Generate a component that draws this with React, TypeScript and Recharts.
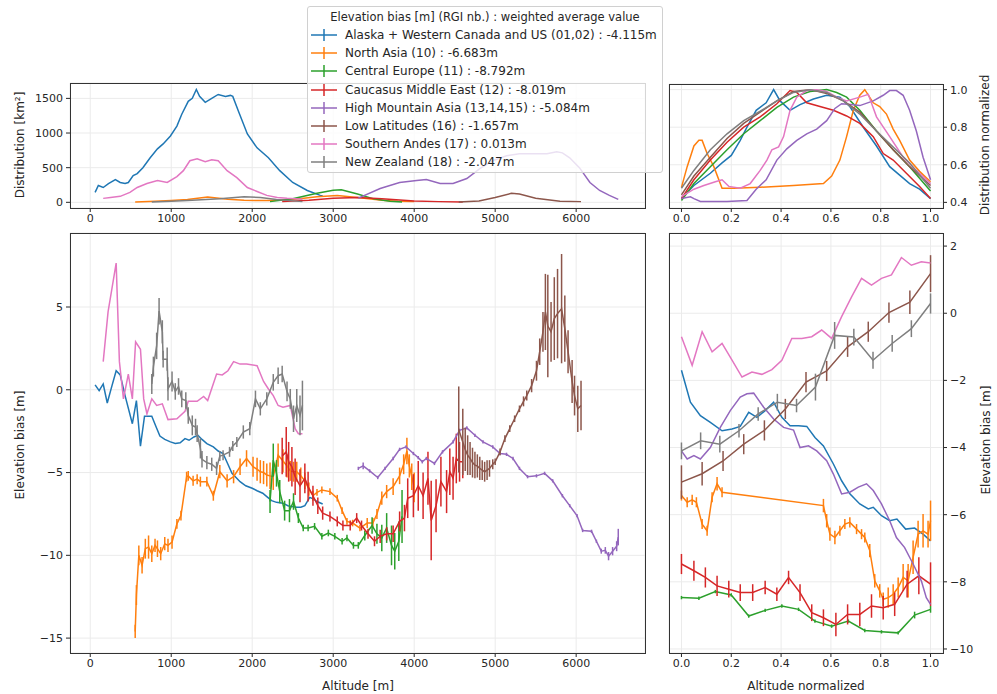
import React from 'react';
import { LineChart, Line, XAxis, YAxis, CartesianGrid, ErrorBar } from 'recharts';

// legend labels, in plotting order
const regionLabels = [
  'Alaska + Western Canada and US (01,02) : -4.115m',
  'North Asia (10) : -6.683m',
  'Central Europe (11) : -8.792m',
  'Caucasus Middle East (12) : -8.019m',
  'High Mountain Asia (13,14,15) : -5.084m',
  'Low Latitudes (16) : -1.657m',
  'Southern Andes (17) : 0.013m',
  'New Zealand (18) : -2.047m',
];
const legendTitle = 'Elevation bias [m] (RGI nb.) : weighted average value';

// ---- distribution [km2] vs altitude [m]
const alaskaDist = [[60,143],[100,243],[160,214],[225,271],[310,329],[370,286],[430,271],[470,286],[530,386],[580,414],[650,500],[740,643],[830,771],[900,843],[990,957],[1070,1100],[1130,1271],[1210,1457],[1260,1500],[1310,1629],[1350,1529],[1420,1443],[1500,1500],[1580,1557],[1670,1529],[1730,1543],[1760,1529],[1830,1314],[1940,986],[2060,786],[2200,643],[2340,457],[2500,286],[2680,171],[2840,100],[2870,90]];
const northAsiaDist = [[555,5],[800,15],[1000,25],[1200,40],[1450,75],[1700,45],[1900,30],[2200,25],[2500,40],[2800,80],[3050,100],[3300,70],[3600,30],[3800,15],[4000,10]];
const centralEuropeDist = [[2220,10],[2500,50],[2800,130],[3000,175],[3100,180],[3300,120],[3500,50],[3700,15],[3850,5]];
const caucasusDist = [[2370,10],[2700,30],[3000,60],[3300,70],[3600,50],[4000,20],[4300,10],[4600,5]];
const hmaDist = [[3310,60],[3580,200],[3820,286],[4030,314],[4150,329],[4320,271],[4480,271],[4650,343],[4810,486],[4970,600],[5140,671],[5300,700],[5460,700],[5640,700],[5760,729],[5830,714],[5920,643],[6040,500],[6170,286],[6290,171],[6410,100],[6520,43]];
const lowLatDist = [[4550,5],[4800,20],[5000,70],[5200,130],[5300,120],[5500,60],[5800,15],[6060,10]];
const andesDist = [[160,57],[250,71],[370,86],[490,143],[580,214],[700,271],[830,314],[950,286],[1070,371],[1150,457],[1230,600],[1320,629],[1420,586],[1500,614],[1580,600],[1690,457],[1810,357],[1940,214],[2060,157],[2180,100],[2310,71],[2430,57],[2620,45]];
const nzDist = [[760,5],[1000,15],[1200,25],[1600,50],[1900,80],[2100,70],[2300,40],[2620,10]];

// ---- distribution normalized vs altitude normalized
const alaskaDistN = [[0,0.42],[0.05,0.49],[0.116,0.555],[0.163,0.61],[0.2,0.65],[0.236,0.73],[0.263,0.8],[0.3,0.89],[0.34,0.93],[0.37,1.0],[0.396,0.94],[0.436,0.89],[0.476,0.92],[0.53,0.95],[0.583,0.97],[0.636,0.96],[0.676,0.91],[0.73,0.8],[0.783,0.7],[0.836,0.59],[0.876,0.545],[0.916,0.5],[0.956,0.47],[1,0.42]];
const northAsiaDistN = [[0,0.48],[0.023,0.59],[0.05,0.7],[0.07,0.73],[0.083,0.73],[0.103,0.66],[0.13,0.59],[0.163,0.475],[0.21,0.475],[0.316,0.48],[0.45,0.49],[0.57,0.5],[0.603,0.54],[0.636,0.625],[0.663,0.75],[0.69,0.89],[0.716,0.97],[0.736,1.0],[0.77,0.93],[0.796,0.91],[0.823,0.87],[0.85,0.79],[0.876,0.73],[0.916,0.625],[0.956,0.565],[1,0.51]];
const centralEuropeDistN = [[0,0.41],[0.05,0.5],[0.116,0.59],[0.183,0.68],[0.25,0.765],[0.316,0.835],[0.383,0.905],[0.45,0.96],[0.516,0.99],[0.583,1.0],[0.623,0.985],[0.663,0.96],[0.716,0.89],[0.783,0.78],[0.85,0.68],[0.916,0.59],[1,0.46]];
const caucasusDistN = [[0,0.42],[0.05,0.52],[0.116,0.625],[0.183,0.72],[0.25,0.8],[0.316,0.855],[0.383,0.925],[0.436,0.995],[0.463,0.985],[0.503,0.93],[0.556,0.91],[0.61,0.89],[0.663,0.86],[0.716,0.82],[0.77,0.75],[0.81,0.66],[0.85,0.625],[0.903,0.555],[0.956,0.485],[1,0.42]];
const hmaDistN = [[0,0.42],[0.036,0.43],[0.05,0.42],[0.076,0.405],[0.116,0.405],[0.183,0.405],[0.263,0.41],[0.3,0.47],[0.34,0.52],[0.383,0.625],[0.423,0.685],[0.463,0.73],[0.503,0.765],[0.543,0.79],[0.583,0.835],[0.616,0.9],[0.643,0.925],[0.69,0.92],[0.716,0.915],[0.77,0.94],[0.81,0.97],[0.836,0.995],[0.863,0.995],[0.89,0.97],[0.916,0.89],[0.943,0.78],[0.97,0.64],[1,0.52]];
const lowLatDistN = [[0,0.44],[0.05,0.54],[0.116,0.64],[0.183,0.74],[0.25,0.82],[0.316,0.88],[0.383,0.94],[0.45,0.99],[0.516,1.0],[0.583,0.98],[0.65,0.94],[0.716,0.88],[0.783,0.78],[0.85,0.68],[0.916,0.59],[1,0.49]];
const andesDistN = [[0,0.43],[0.05,0.47],[0.09,0.49],[0.136,0.51],[0.163,0.52],[0.19,0.485],[0.236,0.475],[0.276,0.5],[0.316,0.57],[0.343,0.625],[0.363,0.68],[0.39,0.695],[0.41,0.75],[0.436,0.89],[0.463,0.96],[0.503,0.995],[0.543,1.0],[0.583,0.99],[0.623,0.96],[0.663,0.94],[0.716,0.96],[0.75,0.975],[0.783,0.855],[0.836,0.75],[0.89,0.64],[0.943,0.57],[1,0.5]];
const nzDistN = [[0,0.475],[0.05,0.57],[0.116,0.68],[0.183,0.765],[0.25,0.835],[0.316,0.885],[0.383,0.94],[0.45,0.985],[0.516,1.0],[0.583,0.985],[0.65,0.94],[0.716,0.87],[0.783,0.78],[0.85,0.695],[0.916,0.61],[1,0.475]];

// ---- elevation bias [m] vs altitude [m]: [altitude, bias, error]
const alaskaBias = [[60,0.3,0],[110,-0.05,0],[160,0.35,0],[210,-0.8,0],[260,0.1,0],[320,1.15,0],[370,0.9,0],[430,-0.35,0],[520,-2.05,0],[570,-0.65,0],[620,-3.4,0],[670,-1.6,0],[760,-1.6,0],[810,-2.2,0],[860,-2.8,0],[920,-3.0,0],[990,-3.15,0],[1050,-3.25,0],[1110,-3.2,0],[1170,-2.95,0],[1220,-3.05,0],[1280,-2.85,0],[1330,-2.75,0],[1380,-3.0,0],[1440,-3.25,0],[1520,-3.45,0],[1580,-3.7,0],[1640,-3.85,0],[1700,-4.5,0],[1750,-5.05,0],[1800,-5.3,0],[1850,-5.55,0],[1920,-5.8,0],[2000,-5.95,0],[2060,-6.1,0],[2130,-6.25,0],[2180,-6.45,0],[2240,-6.7,0],[2300,-6.8,0],[2380,-6.85,0],[2440,-7.0,0],[2490,-7.05,0],[2550,-7.1,0],[2600,-7.1,0],[2650,-7.0,0],[2710,-6.5,0],[2760,-6.6,0],[2800,-6.75,0],[2870,-6.9,0]];
const northAsiaBias = [[555,-14.6,0.4],[570,-12.4,0.6],[600,-10.0,0.6],[640,-10.6,0.5],[680,-9.6,0.6],[720,-9.5,0.7],[760,-9.9,0.5],[800,-9.4,0.4],[830,-9.6,0.5],[870,-9.9,0.4],[920,-9.3,0.4],[960,-9.4,0.4],[1010,-9.2,0.4],[1070,-8.1,0.3],[1120,-7.6,0.3],[1190,-5.25,0.3],[1210,-5.2,0.3],[1270,-5.5,0.3],[1320,-5.4,0.3],[1360,-5.55,0.3],[1440,-5.55,0.3],[1520,-6.4,0.3],[1600,-4.95,0.4],[1690,-5.5,0.4],[1770,-5.25,0.4],[1850,-4.65,0.5],[1930,-4.15,0.5],[2010,-4.65,0.6],[2060,-4.8,0.7],[2100,-4.95,0.7],[2140,-5.0,0.7],[2180,-5.15,0.7],[2220,-5.2,0.8],[2260,-5.25,0.8],[2320,-3.95,0.7],[2380,-4.3,0.7],[2430,-4.6,0.7],[2470,-4.9,0.6],[2510,-4.95,0.6],[2550,-4.95,0.6],[2600,-5.2,0.5],[2650,-5.5,0.5],[2700,-6.0,0.4],[2750,-6.4,0.3],[2800,-6.2,0.2],[2860,-6.05,0.2],[2960,-6.15,0.2],[3050,-6.55,0.2],[3110,-7.3,0.2],[3170,-7.95,0.2],[3240,-8.05,0.2],[3330,-8.35,0.2],[3420,-8.05,0.3],[3490,-8.05,0.3],[3540,-7.5,0.3],[3600,-6.55,0.4],[3660,-6.15,0.4],[3740,-5.85,0.5],[3820,-5.2,0.5],[3870,-4.5,0.6],[3910,-3.7,0.8],[3940,-4.6,0.7],[3970,-5.25,0.8],[4000,-5.9,0.9]];
const centralEuropeBias = [[2220,-6.75,0.7],[2260,-4.25,1.0],[2300,-5.05,0.8],[2340,-6.15,0.7],[2400,-7.3,0.6],[2460,-7.3,0.7],[2510,-6.75,0.5],[2570,-7.75,0.3],[2630,-8.35,0.2],[2690,-8.35,0.2],[2770,-8.25,0.2],[2860,-8.85,0.2],[2940,-8.65,0.2],[3020,-8.85,0.2],[3110,-9.15,0.2],[3170,-8.95,0.2],[3250,-9.4,0.2],[3310,-9.4,0.2],[3390,-8.8,0.3],[3480,-8.2,0.5],[3540,-8.7,0.6],[3600,-8.95,0.8],[3660,-8.35,0.9],[3720,-9.4,1.2],[3760,-9.75,1.1],[3810,-9.15,1.2],[3850,-7.65,1.6]];
const caucasusBias = [[2370,-4.0,1.1],[2420,-3.75,1.5],[2450,-4.35,1.2],[2490,-4.65,1.2],[2530,-5.25,1.1],[2590,-5.8,1.0],[2650,-5.35,0.9],[2690,-5.85,0.9],[2750,-6.4,0.6],[2810,-7.0,0.5],[2870,-7.45,0.4],[2960,-7.65,0.3],[3050,-7.95,0.3],[3120,-8.2,0.3],[3210,-8.2,0.3],[3290,-7.75,0.3],[3350,-8.2,0.3],[3430,-8.7,0.3],[3510,-9.15,0.3],[3580,-8.85,0.4],[3660,-8.7,0.4],[3740,-8.7,0.5],[3820,-7.95,0.6],[3880,-7.75,0.8],[3920,-6.55,1.2],[3990,-6.4,1.3],[4050,-5.8,1.5],[4110,-6.4,1.4],[4170,-5.35,1.6],[4210,-7.9,2.4],[4270,-7.0,1.6],[4330,-5.55,1.5],[4400,-6.15,1.3],[4440,-4.95,1.4],[4480,-5.35,1.3],[4520,-4.15,1.5],[4560,-4.35,1.2],[4600,-4.35,1.0]];
const hmaBias = [[3310,-4.75,0.1],[3370,-4.6,0.2],[3450,-4.9,0.1],[3550,-5.3,0.1],[3640,-4.75,0.1],[3740,-4.15,0.1],[3820,-3.6,0.1],[3900,-3.45,0.1],[3990,-3.85,0.1],[4050,-4.1,0.1],[4100,-4.35,0.1],[4150,-4.15,0.1],[4250,-4.45,0.1],[4350,-3.75,0.1],[4480,-3.15,0.1],[4560,-2.45,0.1],[4650,-2.3,0.1],[4750,-2.75,0.1],[4850,-3.15,0.1],[4970,-3.45,0.1],[5060,-3.85,0.1],[5140,-3.9,0.1],[5220,-4.15,0.1],[5300,-4.75,0.1],[5400,-5.25,0.1],[5510,-5.2,0.1],[5610,-5.05,0.1],[5710,-5.5,0.1],[5830,-6.4,0.1],[5920,-7.0,0.1],[6010,-7.6,0.1],[6080,-8.5,0.1],[6190,-8.55,0.1],[6250,-9.15,0.1],[6310,-9.75,0.15],[6360,-9.7,0.2],[6400,-10.05,0.25],[6450,-9.75,0.25],[6500,-9.45,0.3],[6520,-8.9,0.5]];
const lowLatBias = [[4550,-2.4,2.6],[4600,-3.15,2.0],[4630,-3.6,1.3],[4660,-3.95,1.2],[4690,-4.15,1.0],[4720,-4.4,0.9],[4750,-4.55,0.8],[4780,-4.6,0.7],[4810,-4.75,0.7],[4840,-4.85,0.6],[4870,-4.95,0.6],[4900,-4.85,0.6],[4930,-4.75,0.5],[4970,-4.5,0.3],[5000,-4.35,0.2],[5060,-3.75,0.2],[5120,-2.95,0.2],[5180,-2.35,0.2],[5240,-1.75,0.2],[5300,-1.15,0.2],[5350,-0.7,0.3],[5390,-0.35,0.3],[5450,0.25,0.4],[5510,1.15,0.6],[5550,2.3,0.8],[5590,3.5,1.2],[5620,4.7,2.3],[5650,3.85,3.1],[5690,3.5,1.8],[5730,4.3,2.5],[5770,4.6,2.7],[5820,4.9,3.3],[5860,3.7,2.0],[5900,2.3,1.3],[5950,0.5,1.3],[5980,-0.35,1.2],[6020,-1.15,1.4],[6060,-0.95,1.5]];
const andesBias = [[160,1.7,0],[220,4.7,0],[320,7.65,0],[360,1.7,0],[410,-0.55,0],[470,0.95,0],[520,-0.55,0],[560,2.9,0],[620,2.45,0],[660,-0.55,0],[700,-1.45,0],[760,-0.55,0],[820,-0.95,0],[890,-0.85,0],[960,-1.8,0],[1070,-1.75,0],[1170,-1.3,0],[1210,-0.7,0],[1320,-0.7,0],[1400,-0.4,0],[1450,-0.65,0],[1560,0.95,0],[1630,0.9,0],[1700,1.15,0],[1770,1.7,0],[1850,1.55,0],[1930,1.55,0],[2060,1.45,0],[2140,0.5,0],[2200,0.05,0],[2260,-0.35,0],[2320,-0.95,0],[2380,-1.05,0],[2470,-0.95,0],[2530,-2.35,0],[2570,-2.65,0],[2620,-2.65,0]];
const nzBias = [[760,0.35,0.6],[780,1.4,0.6],[820,2.65,0.8],[850,4.75,0.8],[890,3.5,0.7],[900,1.85,0.5],[950,1.85,0.7],[960,0.05,0.7],[1010,0.5,0.6],[1050,-0.1,0.5],[1090,0.2,0.5],[1130,-0.55,0.5],[1180,-0.65,0.5],[1210,-1.55,0.5],[1260,-2.15,0.6],[1300,-2.25,0.5],[1320,-2.65,0.5],[1360,-3.55,0.6],[1380,-4.2,0.5],[1440,-4.4,0.4],[1500,-4.5,0.4],[1560,-4.75,0.4],[1600,-4.0,0.3],[1640,-3.95,0.3],[1720,-3.75,0.3],[1760,-3.4,0.3],[1810,-3.15,0.3],[1890,-2.55,0.4],[1970,-2.35,0.4],[2040,-0.55,0.5],[2100,-1.15,0.4],[2180,-0.55,0.4],[2260,0.45,0.5],[2320,0.85,0.5],[2370,0.95,0.5],[2430,-0.1,0.6],[2470,-0.55,0.6],[2510,-1.75,0.8],[2550,-0.95,1.0],[2590,-1.55,1.2],[2620,-0.95,1.5]];

// ---- elevation bias [m] vs altitude normalized: [altitude normalized, bias, error]
const alaskaBiasN = [[0,-1.7,0],[0.036,-2.65,0],[0.076,-3.05,0],[0.116,-3.25,0],[0.163,-3.5,0],[0.203,-3.45,0],[0.236,-3.37,0],[0.27,-2.95,0],[0.303,-3.1,0],[0.336,-2.9,0],[0.37,-2.65,0],[0.403,-3.1,0],[0.436,-3.35,0],[0.47,-3.35,0],[0.503,-3.37,0],[0.536,-3.7,0],[0.57,-3.95,0],[0.61,-4.49,0],[0.643,-4.99,0],[0.676,-5.38,0],[0.716,-5.68,0],[0.75,-5.83,0],[0.77,-5.78,0],[0.803,-6.03,0],[0.836,-6.18,0],[0.865,-6.13,0],[0.9,-6.43,0],[0.936,-6.4,0],[0.97,-6.58,0],[1,-6.78,0]];
const northAsiaBiasN = [[0,-5.43,0.15],[0.023,-5.63,0.15],[0.043,-5.56,0.15],[0.06,-5.63,0.15],[0.083,-6.28,0.15],[0.103,-6.48,0.15],[0.123,-5.48,0.15],[0.143,-5.08,0.2],[0.163,-5.33,0.15],[0.57,-5.73,0.2],[0.583,-6.18,0.2],[0.596,-6.58,0.2],[0.616,-6.68,0.2],[0.636,-6.48,0.15],[0.656,-6.28,0.15],[0.676,-6.23,0.15],[0.703,-6.43,0.15],[0.723,-6.58,0.15],[0.736,-6.68,0.15],[0.756,-7.07,0.2],[0.776,-7.97,0.2],[0.796,-8.27,0.2],[0.81,-8.52,0.2],[0.83,-8.47,0.3],[0.85,-8.37,0.3],[0.87,-8.17,0.3],[0.89,-7.87,0.4],[0.91,-7.97,0.5],[0.93,-7.27,0.5],[0.95,-6.58,0.4],[0.97,-6.48,0.5],[0.99,-6.58,0.4],[1,-6.18,0.6]];
const centralEuropeBiasN = [[0,-8.47,0.05],[0.07,-8.49,0.05],[0.136,-8.29,0.05],[0.2,-8.39,0.05],[0.27,-9.02,0.05],[0.336,-8.85,0.05],[0.403,-8.72,0.05],[0.47,-8.82,0.05],[0.536,-9.17,0.05],[0.603,-9.32,0.05],[0.67,-9.17,0.05],[0.736,-9.45,0.05],[0.803,-9.49,0.05],[0.87,-9.52,0.05],[0.936,-8.99,0.1],[1,-8.82,0.1]];
const caucasusBiasN = [[0,-7.47,0.3],[0.05,-7.67,0.3],[0.096,-7.87,0.3],[0.143,-8.12,0.3],[0.19,-8.22,0.25],[0.236,-8.32,0.25],[0.286,-8.32,0.25],[0.336,-8.17,0.2],[0.383,-8.37,0.2],[0.43,-7.87,0.2],[0.476,-8.32,0.25],[0.523,-8.92,0.25],[0.57,-9.07,0.25],[0.62,-9.27,0.35],[0.667,-8.97,0.3],[0.716,-8.97,0.35],[0.763,-8.72,0.35],[0.81,-8.77,0.35],[0.856,-8.67,0.35],[0.906,-8.07,0.4],[0.953,-7.82,0.55],[1,-8.07,0.65]];
const hmaBiasN = [[0,-4.1,0],[0.023,-4.34,0],[0.05,-4.24,0],[0.076,-4.34,0],[0.116,-4.0,0],[0.156,-3.4,0],[0.196,-2.9,0],[0.236,-2.5,0],[0.263,-2.4,0],[0.29,-2.38,0],[0.33,-2.8,0],[0.37,-3.15,0],[0.41,-3.4,0],[0.45,-3.48,0],[0.476,-4.0,0],[0.51,-3.95,0],[0.543,-4.1,0],[0.583,-4.39,0],[0.61,-4.79,0],[0.643,-5.38,0],[0.676,-5.33,0],[0.71,-5.18,0],[0.743,-5.08,0],[0.77,-5.28,0],[0.803,-5.68,0],[0.836,-6.18,0],[0.863,-6.68,0],[0.896,-6.98,0],[0.93,-7.47,0],[0.963,-7.97,0],[0.983,-8.47,0],[1,-8.67,0]];
const lowLatBiasN = [[0,-5.03,0.5],[0.083,-4.78,0.35],[0.167,-4.4,0.3],[0.25,-3.9,0.3],[0.333,-3.49,0.3],[0.417,-2.85,0.3],[0.5,-2.05,0.3],[0.583,-1.72,0.3],[0.667,-1.0,0.3],[0.75,-0.55,0.3],[0.833,0.02,0.3],[0.917,0.33,0.35],[1,1.18,0.55]];
const andesBiasN = [[0,-0.7,0],[0.043,-1.55,0],[0.083,-0.55,0],[0.123,-1.15,0],[0.163,-0.9,0],[0.203,-1.4,0],[0.243,-1.9,0],[0.283,-1.75,0],[0.323,-1.82,0],[0.363,-1.68,0],[0.403,-1.4,0],[0.443,-0.75,0],[0.483,-0.75,0],[0.523,-0.7,0],[0.563,-0.5,0],[0.603,-0.75,0],[0.643,-0.1,0],[0.683,0.49,0],[0.723,1.04,0],[0.763,0.84,0],[0.803,1.04,0],[0.843,1.14,0],[0.883,1.66,0],[0.923,1.43,0],[0.963,1.53,0],[1,1.5,0]];
const nzBiasN = [[0,-4.1,0.25],[0.077,-3.8,0.25],[0.154,-3.9,0.25],[0.231,-3.5,0.2],[0.308,-3.0,0.2],[0.385,-2.65,0.25],[0.462,-2.75,0.2],[0.538,-2.2,0.4],[0.615,-0.66,0.4],[0.692,-0.71,0.25],[0.769,-1.4,0.25],[0.846,-0.9,0.25],[0.923,-0.46,0.25],[1,0.29,0.3]];

const colors = ['#1f77b4', '#ff7f0e', '#2ca02c', '#d62728', '#9467bd', '#8c564b', '#e377c2', '#7f7f7f'];

const distSeries = [alaskaDist, northAsiaDist, centralEuropeDist, caucasusDist, hmaDist, lowLatDist, andesDist, nzDist];
const distNormSeries = [alaskaDistN, northAsiaDistN, centralEuropeDistN, caucasusDistN, hmaDistN, lowLatDistN, andesDistN, nzDistN];
const biasSeries = [alaskaBias, northAsiaBias, centralEuropeBias, caucasusBias, hmaBias, lowLatBias, andesBias, nzBias];
const biasNormSeries = [alaskaBiasN, northAsiaBiasN, centralEuropeBiasN, caucasusBiasN, hmaBiasN, lowLatBiasN, andesBiasN, nzBiasN];

const altTicks = [0, 1000, 2000, 3000, 4000, 5000, 6000];
const normTicks = [0, 0.2, 0.4, 0.6, 0.8, 1.0];
const distTicks = [0, 500, 1000, 1500];
const distNormTicks = [0.4, 0.6, 0.8, 1.0];
const biasTicks = [-15, -10, -5, 0, 5];
const biasNormTicks = [-10, -8, -6, -4, -2, 0, 2];

const W = 997;
const H = 694;
const FONT = '"DejaVu Sans", sans-serif';
const INK = '#262626';

const minus = (v: number) => (v < 0 ? '\u2212' + Math.abs(v) : String(v));
const oneDec = (v: number) => v.toFixed(1);

type Box = { x0: number; y0: number; x1: number; y1: number };

const toRows = (pts: number[][]) => pts.map(p => ({ x: p[0], y: p[1], e: p[2] ?? 0 }));

function Panel(props: {
  box: Box; right?: boolean; xDomain: [number, number]; xTicks: number[];
  yDomain: [number, number]; yTicks: number[]; fmtX?: (v: number) => string;
  fmtY?: (v: number) => string; series: number[][][]; errors?: boolean;
}) {
  const { box, right, xDomain, xTicks, yDomain, yTicks, fmtX, fmtY, series, errors } = props;
  const margin = {
    top: box.y0,
    bottom: H - box.y1 - 20,
    left: right ? box.x0 : box.x0 - 40,
    right: right ? W - box.x1 - 40 : W - box.x1,
  };
  const tick = { fontSize: 11, fill: INK, fontFamily: FONT };
  return (
    <div style={{ position: 'absolute', left: 0, top: 0 }}>
      <LineChart width={W} height={H} margin={margin}>
        <CartesianGrid stroke="#ebebeb" />
        <XAxis type="number" dataKey="x" domain={xDomain} ticks={xTicks} allowDataOverflow interval={0}
          height={20} tickSize={4} tickMargin={2} axisLine={false} tickLine={{ stroke: INK }} tick={tick}
          tickFormatter={fmtX} />
        <YAxis type="number" domain={yDomain} ticks={yTicks} allowDataOverflow interval={0}
          orientation={right ? 'right' : 'left'} width={40} tickSize={4} tickMargin={3}
          axisLine={false} tickLine={{ stroke: INK }} tick={tick} tickFormatter={fmtY} />
        {series.map((pts, i) => (
          <Line key={i} data={toRows(pts)} dataKey="y" type="linear" stroke={colors[i]} strokeWidth={1.5}
            dot={false} isAnimationActive={false}>
            {errors && <ErrorBar dataKey="e" width={0} stroke={colors[i]} strokeWidth={1.5} direction="y" />}
          </Line>
        ))}
      </LineChart>
    </div>
  );
}

const boxes: Box[] = [
  { x0: 70, y0: 83, x1: 645, y1: 208 },
  { x0: 669, y0: 84, x1: 943, y1: 208 },
  { x0: 70, y0: 233, x1: 645, y1: 653 },
  { x0: 669, y0: 233, x1: 943, y1: 653 },
];

export default function App() {
  return (
    <div style={{ position: 'absolute', left: 0, top: 0, width: W, height: H, background: '#fff', fontFamily: FONT, overflow: 'hidden' }}>
      <Panel box={boxes[0]} xDomain={[-250, 6850]} xTicks={altTicks} yDomain={[-82, 1722]} yTicks={distTicks} series={distSeries} />
      <Panel box={boxes[1]} right xDomain={[-0.05, 1.05]} xTicks={normTicks} fmtX={oneDec} yDomain={[0.37, 1.03]} yTicks={distNormTicks} fmtY={oneDec} series={distNormSeries} />
      <Panel box={boxes[2]} xDomain={[-250, 6850]} xTicks={altTicks} yDomain={[-15.9, 9.47]} yTicks={biasTicks} fmtY={minus} series={biasSeries} errors />
      <Panel box={boxes[3]} right xDomain={[-0.05, 1.05]} xTicks={normTicks} fmtX={oneDec} yDomain={[-10.12, 2.39]} yTicks={biasNormTicks} fmtY={minus} series={biasNormSeries} errors />

      {boxes.map((b, i) => (
        <div key={i} style={{ position: 'absolute', left: b.x0 - 0.5, top: b.y0 - 0.5, width: b.x1 - b.x0 + 1, height: b.y1 - b.y0 + 1, border: '1px solid #333', boxSizing: 'border-box', pointerEvents: 'none' }} />
      ))}

      <svg width={W} height={H} style={{ position: 'absolute', left: 0, top: 0, pointerEvents: 'none' }}>
        <g fontFamily={FONT} fontSize={12} fill={INK} textAnchor="middle">
          <text transform="translate(20,145) rotate(-90)" dominantBaseline="central">Distribution [km²]</text>
          <text transform="translate(20,445) rotate(-90)" dominantBaseline="central">Elevation bias [m]</text>
          <text x={358} y={686} dominantBaseline="central">Altitude [m]</text>
          <text x={806} y={686} dominantBaseline="central">Altitude normalized</text>
          <text transform="translate(985,145) rotate(-90)" dominantBaseline="central">Distribution normalized</text>
          <text transform="translate(986,440) rotate(-90)" dominantBaseline="central">Elevation bias [m]</text>
        </g>
      </svg>

      <div style={{ position: 'absolute', left: 307, top: 6, width: 356, height: 167, background: 'rgba(255,255,255,0.8)', border: '1px solid #d0d0d0', borderRadius: 3, boxSizing: 'border-box', fontSize: 11.5, color: INK }}>
        <div style={{ position: 'absolute', left: 0, right: 0, top: 10, transform: 'translateY(-50%)', textAlign: 'center', whiteSpace: 'nowrap' }}>{legendTitle}</div>
        {regionLabels.map((label, i) => (
          <div key={label} style={{ position: 'absolute', left: 2, top: 28 + i * 18.2, transform: 'translateY(-50%)', display: 'flex', alignItems: 'center', whiteSpace: 'nowrap', fontSize: 12 }}>
            <svg width={30} height={14}>
              <line x1={1} y1={7} x2={27} y2={7} stroke={colors[i]} strokeWidth={1.5} />
              <line x1={14} y1={1} x2={14} y2={13} stroke={colors[i]} strokeWidth={1.5} />
            </svg>
            <span style={{ marginLeft: 5 }}>{label}</span>
          </div>
        ))}
      </div>
    </div>
  );
}
